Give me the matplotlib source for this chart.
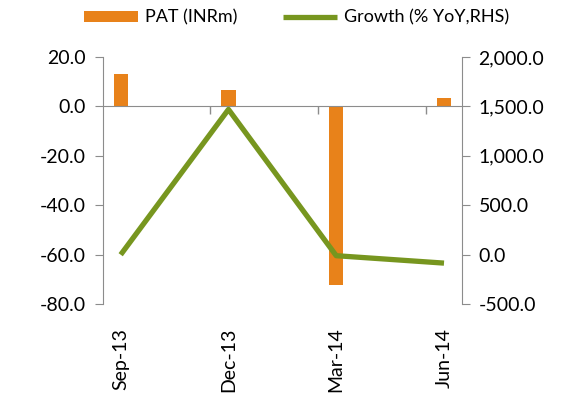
import matplotlib.pyplot as plt
from matplotlib.ticker import FixedLocator, FuncFormatter

# quarters, placed on a monthly date axis like the original
quarters = ['Sep-13', 'Dec-13', 'Mar-14', 'Jun-14']
month_pos = [0, 3, 6, 9]
pat = [13.1, 6.7, -72.4, 3.5]          # PAT (INRm), left axis
growth = [0.0, 1470.0, -10.0, -85.0]   # Growth % YoY, right axis

bar_color = '#E8821A'
line_color = '#77961F'
grey = '#8C8C8C'

plt.rcParams['font.family'] = ['Lato', 'DejaVu Sans']

fig = plt.figure(figsize=(5.87, 3.96), dpi=100)
ax = fig.add_axes([0.175, 0.232, 0.612, 0.624])

ax.bar(month_pos, pat, width=0.4, color=bar_color, label='PAT (INRm)', zorder=2)
ax.set_xlim(-0.5, 9.5)
ax.set_ylim(-80, 20)
ax.set_yticks([20, 0, -20, -40, -60, -80])
ax.yaxis.set_major_formatter(FuncFormatter(lambda v, p: f'{v:.1f}'))

ax.set_xticks(month_pos)
ax.set_xticklabels(quarters)
ax.xaxis.set_minor_locator(FixedLocator([2.5, 5.5, 8.5]))
ax.tick_params(axis='x', which='major', bottom=True, top=False, length=0,
               labelbottom=True, labeltop=False, labelsize=14, pad=17,
               labelrotation=90)
ax.tick_params(axis='x', which='minor', bottom=False, top=True,
               direction='in', length=6, color=grey, width=1)
ax.tick_params(axis='y', which='major', direction='out', length=6,
               color=grey, labelsize=14, pad=6)

ax.spines['bottom'].set_visible(False)
ax.spines['right'].set_visible(False)
ax.spines['top'].set_position(('data', 0))
ax.spines['top'].set_color(grey)
ax.spines['left'].set_color(grey)

ax2 = ax.twinx()
ax2.plot(month_pos, growth, color=line_color, linewidth=3.8,
         solid_capstyle='butt', label='Growth (% YoY,RHS)', zorder=3)
ax2.set_ylim(-500, 2000)
ax2.set_yticks([2000, 1500, 1000, 500, 0, -500])
ax2.yaxis.set_major_formatter(FuncFormatter(lambda v, p: f'{v:,.1f}'))
ax2.tick_params(axis='y', direction='out', length=6, color=grey,
                labelsize=14, pad=6)
for s in ['top', 'bottom', 'left']:
    ax2.spines[s].set_visible(False)
ax2.spines['right'].set_color(grey)

h1, l1 = ax.get_legend_handles_labels()
h2, l2 = ax2.get_legend_handles_labels()
fig.legend(h1 + h2, l1 + l2, loc='center', bbox_to_anchor=(0.505, 0.955),
           ncol=2, frameon=False, fontsize=13, handlelength=3.0,
           handleheight=0.6, columnspacing=2.5, handletextpad=0.4)

fig.savefig('out.png', dpi=100)
